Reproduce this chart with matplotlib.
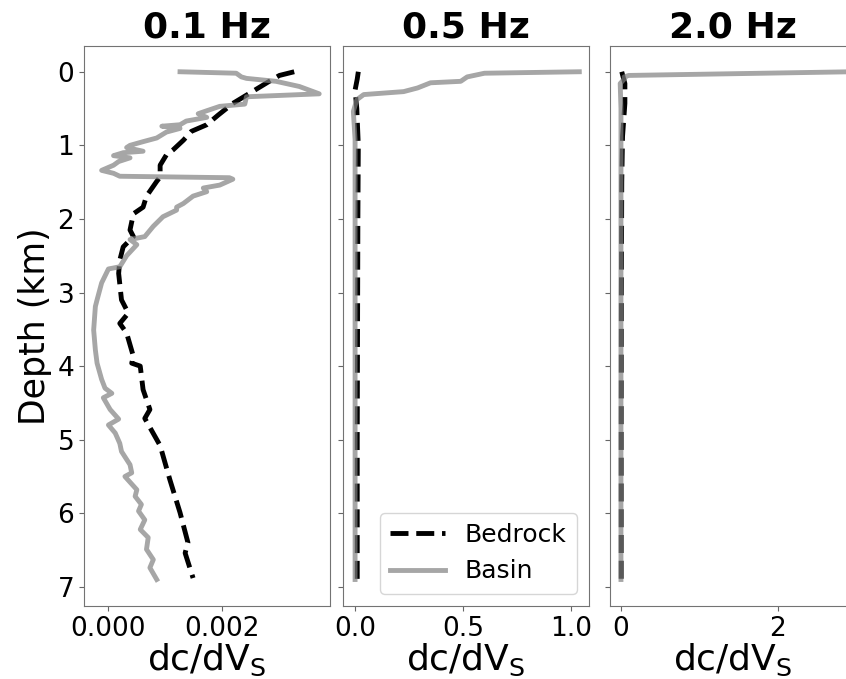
import matplotlib
matplotlib.use("Agg")
import matplotlib.pyplot as plt

# panel titles
freqs = ["0.1 Hz", "0.5 Hz", "2.0 Hz"]

# 0.1 Hz kernels (depth in km, dc/dVs)
bed1_depth = [0.0, 0.05, 0.14, 0.29, 0.43, 0.59, 0.72, 0.81, 0.93, 1.06, 1.13, 1.27, 1.43,
              1.49, 1.69, 1.84, 1.93, 2.15, 2.24, 2.38, 2.56, 2.74, 3.1, 3.28, 3.42, 3.55,
              3.87, 3.96, 4.0, 4.32, 4.59, 4.71, 5.08, 5.54, 5.99, 6.4, 6.54, 6.88]
bed1_val = [3.27, 3.01, 2.81, 2.49, 2.19, 1.93, 1.73, 1.46, 1.32, 1.14, 1.02, 0.91, 0.91,
            0.85, 0.67, 0.61, 0.44, 0.38, 0.44, 0.26, 0.2, 0.18, 0.23, 0.35, 0.2, 0.32,
            0.44, 0.41, 0.56, 0.61, 0.73, 0.64, 0.91, 1.08, 1.26, 1.4, 1.35, 1.49]
bas1_depth = [0.0, 0.02, 0.07, 0.09, 0.13, 0.2, 0.3, 0.34, 0.44, 0.47, 0.53, 0.57, 0.62,
              0.67, 0.72, 0.74, 0.77, 0.82, 0.9, 0.95, 1.0, 1.03, 1.08, 1.1, 1.14, 1.17,
              1.22, 1.27, 1.34, 1.38, 1.42, 1.44, 1.46, 1.54, 1.58, 1.63, 1.69, 1.79,
              1.84, 1.88, 1.97, 2.1, 2.24, 2.28, 2.35, 2.5, 2.65, 2.68, 2.87, 3.1, 3.19,
              3.51, 3.78, 3.96, 4.18, 4.3, 4.37, 4.43, 4.59, 4.72, 4.8, 4.91, 5.05, 5.16,
              5.34, 5.45, 5.5, 5.68, 5.77, 5.88, 5.97, 6.09, 6.22, 6.33, 6.49, 6.63, 6.74, 6.9]
bas1_val = [1.26, 2.25, 2.34, 2.43, 2.95, 3.36, 3.71, 2.43, 2.40, 1.96, 1.73, 1.58, 1.73,
            1.37, 1.26, 0.94, 1.26, 1.02, 0.85, 0.61, 0.38, 0.32, 0.61, 0.26, 0.09, 0.38,
            0.18, 0.09, -0.12, 0.09, 0.2, 2.13, 2.19, 1.96, 1.67, 1.73, 1.49, 1.32,
            1.2, 1.2, 0.96, 0.79, 0.64, 0.38, 0.5, 0.32, 0.2, 0.0, -0.12, -0.2, -0.23,
            -0.26, -0.23, -0.2, -0.12, -0.06, 0.06, -0.09, 0.03, 0.18, 0.0, 0.12, 0.2, 0.23,
            0.38, 0.41, 0.29, 0.5, 0.47, 0.58, 0.53, 0.64, 0.56, 0.7, 0.67, 0.79, 0.73, 0.85]
scale1 = 1e-3

# 0.5 Hz kernels
bed2_depth = [0.0, 0.1, 0.25, 0.5, 1.0, 2.0, 3.0, 4.0, 5.0, 6.0, 6.9]
bed2_val = [0.015, 0.01, 0.0, 0.008, 0.015, 0.013, 0.012, 0.011, 0.01, 0.01, 0.01]
bas2_depth = [0.0, 0.02, 0.07, 0.13, 0.15, 0.22, 0.27, 0.31, 0.38, 0.54, 0.92, 2.0, 4.0, 6.9]
bas2_val = [1.04, 0.6, 0.52, 0.49, 0.35, 0.29, 0.225, 0.04, 0.008, -0.008, 0.0, 0.0, 0.0, 0.0]

# 2.0 Hz kernels
bed3_depth = [0.0, 0.16, 0.43, 0.88, 1.5, 3.0, 5.0, 6.9]
bed3_val = [0.01, 0.05, 0.05, 0.02, 0.01, 0.005, 0.003, 0.003]
bas3_depth = [0.0, 0.05, 0.07, 0.09, 0.16, 0.5, 1.0, 3.0, 6.9]
bas3_val = [2.95, 0.1, 0.04, 0.05, -0.01, 0.0, 0.0, 0.0, 0.0]

xlims = [(-0.00043, 0.0039), (-0.056, 1.085), (-0.14, 3.0)]
xticks = [[0.0, 0.002], [0.0, 0.5, 1.0], [0, 2]]
xticklabels = [["0.000", "0.002"], ["0.0", "0.5", "1.0"], ["0", "2"]]

beds = [(bed1_depth, [v * scale1 for v in bed1_val]), (bed2_depth, bed2_val), (bed3_depth, bed3_val)]
bass = [(bas1_depth, [v * scale1 for v in bas1_val]), (bas2_depth, bas2_val), (bas3_depth, bas3_val)]

fig = plt.figure(figsize=(8.46, 6.79), dpi=100)
lefts = [84 / 846, 343 / 846, 610 / 846]
W = 246 / 846
B = 73 / 679
H = 560 / 679

for i in range(3):
    ax = fig.add_axes([lefts[i], B, W, H])
    ax.plot(beds[i][1], beds[i][0], color="black", ls="--", lw=3.5, label="Bedrock")
    ax.plot(bass[i][1], bass[i][0], color="gray", alpha=0.7, lw=3.5, label="Basin")
    ax.set_xlim(*xlims[i])
    ax.set_ylim(7.26, -0.35)
    ax.set_xticks(xticks[i])
    ax.set_xticklabels(xticklabels[i])
    ax.set_yticks(range(8))
    ax.tick_params(labelsize=19, color="0.4")
    if i > 0:
        ax.set_yticklabels([])
    for s in ax.spines.values():
        s.set_color("0.45")
    ax.set_title(freqs[i], fontsize=26, fontweight="bold")
    ax.set_xlabel(r"dc/dV$_\mathregular{S}$", fontsize=26, labelpad=0)
    if i == 0:
        ax.set_ylabel("Depth (km)", fontsize=25, labelpad=4)
    if i == 1:
        ax.legend(loc="lower right", fontsize=18, handlelength=2.2)

fig.savefig("out.png", dpi=100)
